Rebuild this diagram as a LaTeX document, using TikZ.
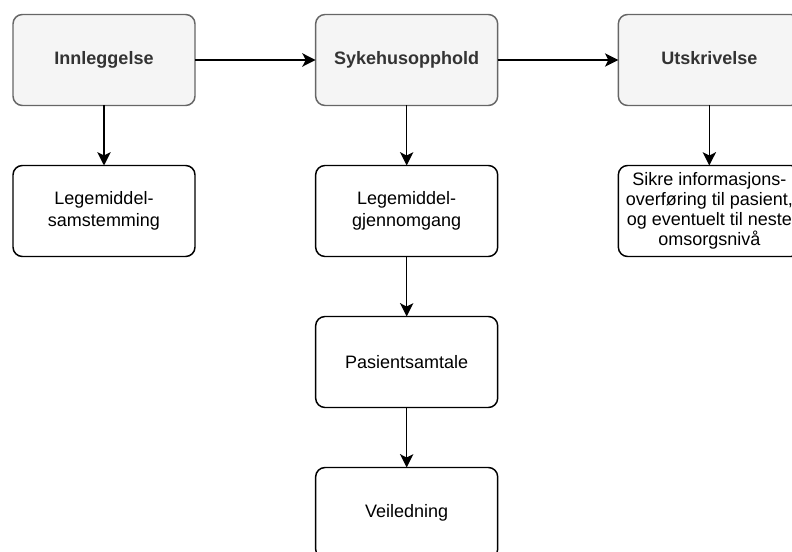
\documentclass[tikz,border=0pt]{standalone}
\usepackage{fontspec}
\setmainfont{Liberation Sans}
\usetikzlibrary{arrows.meta, positioning}
\definecolor{my_lightgray}{RGB}{245, 245, 245}
\definecolor{my_gray}{RGB}{102, 102, 102}
\definecolor{my_darkgray}{RGB}{51, 51, 51}
\tikzset {
  phase/.style = {draw=my_gray, line width=1.1pt, fill=my_lightgray, rounded corners=7pt, rectangle, minimum width=136.5pt, minimum height=68.25pt, text height=10pt, text depth=3pt, text=my_darkgray, font=\fontsize{13.5}{16}\selectfont\bfseries},
  task/.style = {draw, line width=1.1pt, fill=white, rounded corners=7pt, rectangle, minimum width=136.5pt, minimum height=68.25pt, inner sep=2pt, font=\fontsize{13.5}{16}\selectfont, align=center},
  line/.style = {-{Stealth[length=10pt, width=10pt, inset=2.5pt]}, line width=1.1pt, color=black},
}

\begin{document}
\begin{tikzpicture}[outer sep=0pt, node distance=45pt and 90.5pt]
    \useasboundingbox (0,0) rectangle (594pt,-414pt);
    \clip (0,0) rectangle (594pt,-414pt);

    % phases
    \node[phase] (innleggelse) at (78pt,-45pt) {Innleggelse};
    \node[phase, right=of innleggelse] (sykehus) {Sykehusopphold};
    \node[phase, right=of sykehus] (utskrivelse) {Utskrivelse};

    % tasks
    \node[task, below=of innleggelse] (samstemming) {Legemiddel-\\samstemming};
    \node[task, below=of sykehus] (gjennomgang) {Legemiddel-\\gjennomgang};
    \node[task, below=of gjennomgang] (samtale) {Pasientsamtale};
    \node[task, below=of samtale] (veiledning) {Veiledning};
    \node[task, below=of utskrivelse, font=\fontsize{13.5}{15}\selectfont] (overforing) {Sikre informasjons-\\overføring til pasient,\\og eventuelt til neste\\omsorgsnivå};

    \draw[line] (innleggelse) -- (sykehus);
    \draw[line] (sykehus) -- (utskrivelse);
    \draw[line] (innleggelse) -- (samstemming);
    \draw[line] (sykehus) -- (gjennomgang);
    \draw[line] (utskrivelse) -- (overforing);
    \draw[line] (gjennomgang) -- (samtale);
    \draw[line] (samtale) -- (veiledning);

\end{tikzpicture}
\end{document}
